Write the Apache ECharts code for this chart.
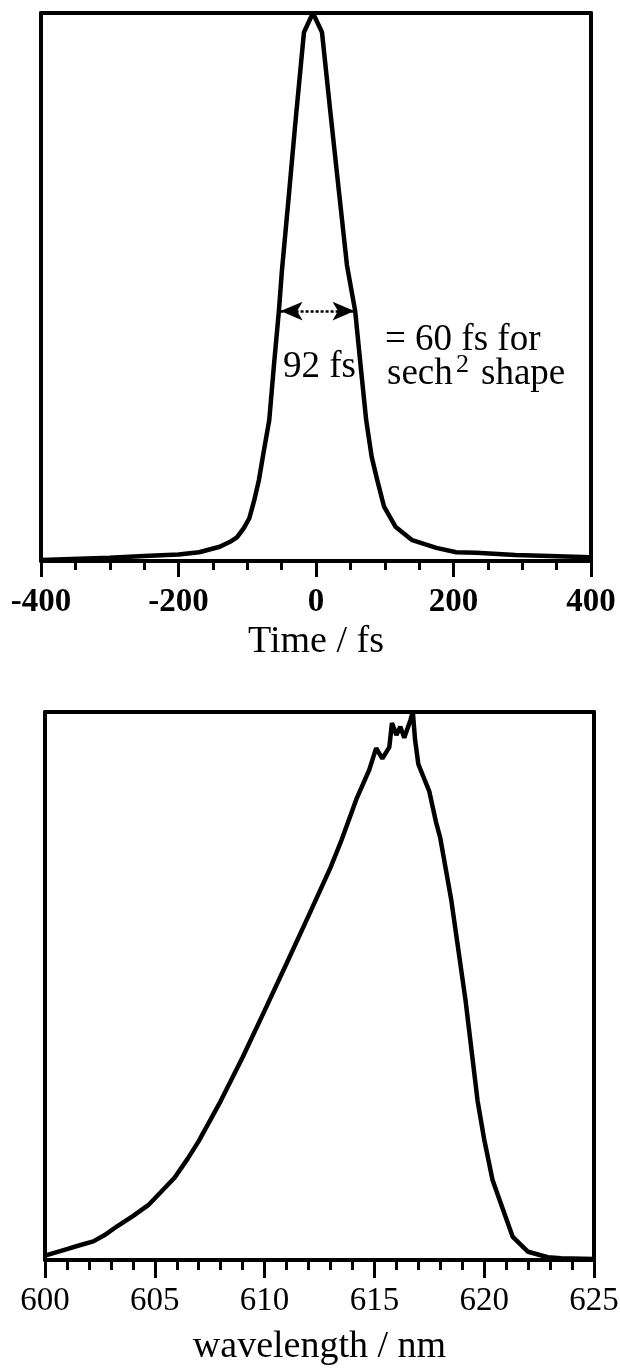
<!DOCTYPE html>
<html lang="en">
<head>
    <meta charset="UTF-8">
    <title>Pulse and spectrum</title>
    <script src="https://cdn.jsdelivr.net/npm/echarts@6/dist/echarts.min.js"></script>
    <style>
        html, body {
            margin: 0;
            padding: 0;
            background: #fff;
        }
        #chart {
            width: 620px;
            height: 1370px;
        }
    </style>
</head>
<body>
<div id="chart"></div>
<script>
    // autocorrelation trace (top)
    var timeFs = [-400, -300, -250, -200, -170, -140, -125, -115, -105, -97,
        -90, -83, -76, -68, -61, -54, -49.5, -40, -30, -17.5,
        -4.5, 8.7, 20, 32, 45, 57, 65, 73, 81, 89,
        99, 116, 140, 175, 204, 233, 290, 400];
    var pulse = [0.002, 0.006, 0.009, 0.012, 0.016, 0.026, 0.035, 0.043, 0.06, 0.078,
        0.11, 0.148, 0.2, 0.257, 0.36, 0.456, 0.531, 0.66, 0.8, 0.965,
        1.0, 0.965, 0.83, 0.69, 0.54, 0.456, 0.355, 0.257, 0.19, 0.148,
        0.099, 0.062, 0.038, 0.024, 0.016, 0.015, 0.011, 0.007];

    // spectrum (bottom)
    var wavelength = [600, 600.5, 601, 601.5, 602.2, 602.7, 603.3, 604, 604.7, 605.3,
        605.9, 606.5, 607, 608, 609, 610, 611, 612, 613, 613.5,
        614.2, 614.76, 615.08, 615.36, 615.68, 615.8, 616, 616.18, 616.36, 616.64,
        616.75, 616.85, 617, 617.3, 617.5, 617.8, 618, 618.5, 619.15, 619.7,
        620, 620.38, 620.75, 621.3, 622, 622.9, 623.5, 625];
    var spectrum = [0.008, 0.014, 0.02, 0.026, 0.034, 0.045, 0.062, 0.08, 0.1, 0.125,
        0.15, 0.185, 0.217, 0.29, 0.37, 0.455, 0.541, 0.628, 0.716, 0.766,
        0.843, 0.894, 0.934, 0.915, 0.936, 0.98, 0.958, 0.973, 0.953, 0.985,
        1.0, 0.95, 0.905, 0.875, 0.855, 0.8, 0.77, 0.657, 0.474, 0.29,
        0.22, 0.146, 0.104, 0.042, 0.015, 0.005, 0.003, 0.002];

    // FWHM arrow ends (fs) and level
    var fwhmEnds = [-51.5, 56];
    var fwhmLevel = 0.456;

    var serif = '"Liberation Serif", "DejaVu Serif", serif';

    function zip(xs, ys) {
        var out = [];
        for (var i = 0; i < xs.length; i++) out.push([xs[i], ys[i]]);
        return out;
    }

    function boxX(grid, min, max, interval, minorSplit, weight, tickLen, minorLen, name, nameGap) {
        return {
            gridIndex: grid, type: 'value', position: 'bottom',
            min: min, max: max, interval: interval,
            axisLine: {onZero: false, lineStyle: {color: '#000', width: 4}},
            axisTick: {show: true, length: tickLen, lineStyle: {color: '#000', width: 3}},
            minorTick: {show: true, splitNumber: minorSplit, length: minorLen, lineStyle: {color: '#000', width: 3}},
            splitLine: {show: false},
            minorSplitLine: {show: false},
            axisLabel: {
                color: '#000', fontFamily: serif, fontSize: 33, fontWeight: weight,
                margin: 25, showMinLabel: true, showMaxLabel: true
            },
            name: name, nameLocation: 'middle', nameGap: nameGap,
            nameTextStyle: {color: '#000', fontFamily: serif, fontSize: 38}
        };
    }

    function topX(grid, min, max) {
        return {
            gridIndex: grid, type: 'value', position: 'top', min: min, max: max,
            axisLine: {onZero: false, lineStyle: {color: '#000', width: 4}},
            axisTick: {show: false}, axisLabel: {show: false}, splitLine: {show: false}
        };
    }

    function sideY(grid, pos) {
        return {
            gridIndex: grid, type: 'value', position: pos, min: 0, max: 1,
            axisLine: {show: true, onZero: false, lineStyle: {color: '#000', width: 4}},
            axisTick: {show: false}, axisLabel: {show: false}, splitLine: {show: false}
        };
    }

    var chart = echarts.init(document.getElementById('chart'));
    var option = {
        backgroundColor: '#fff',
        animation: false,
        grid: [
            {left: 41, right: 29, top: 13, height: 548, outerBoundsMode: 'none'},
            {left: 45, right: 26, top: 712, height: 548, outerBoundsMode: 'none'}
        ],
        xAxis: [
            boxX(0, -400, 400, 200, 4, 'bold', 16, 9, 'Time / fs', 62),
            topX(0, -400, 400),
            boxX(1, 600, 625, 5, 5, 'normal', 18, 10, 'wavelength / nm', 68),
            topX(1, 600, 625)
        ],
        yAxis: [
            sideY(0, 'left'), sideY(0, 'right'),
            sideY(1, 'left'), sideY(1, 'right')
        ],
        series: [
            {
                type: 'line', xAxisIndex: 0, yAxisIndex: 0,
                data: zip(timeFs, pulse),
                showSymbol: false, clip: false, silent: true,
                lineStyle: {color: '#000', width: 4.5},
                markLine: {
                    silent: true,
                    symbol: ['arrow', 'arrow'],
                    symbolSize: [14, 22],
                    label: {show: false},
                    lineStyle: {color: '#000', width: 2.5, type: [3, 2]},
                    data: [[{coord: [fwhmEnds[0], fwhmLevel]}, {coord: [fwhmEnds[1], fwhmLevel]}]]
                }
            },
            {
                type: 'line', xAxisIndex: 2, yAxisIndex: 2,
                data: zip(wavelength, spectrum),
                showSymbol: false, clip: false, silent: true,
                lineStyle: {color: '#000', width: 4.5}
            }
        ],
        graphic: [
            {type: 'text', left: 385, top: 322, style: {text: '= 60 fs for', font: '37px ' + serif, fill: '#000'}},
            {type: 'text', left: 283, top: 349, style: {text: '92 fs', font: '37px ' + serif, fill: '#000'}},
            {type: 'text', left: 387, top: 356, style: {text: 'sech', font: '37px ' + serif, fill: '#000'}},
            {type: 'text', left: 456, top: 352, style: {text: '2', font: '26px ' + serif, fill: '#000'}},
            {type: 'text', left: 481, top: 356, style: {text: 'shape', font: '37px ' + serif, fill: '#000'}}
        ]
    };
    chart.setOption(option);
</script>
</body>
</html>
